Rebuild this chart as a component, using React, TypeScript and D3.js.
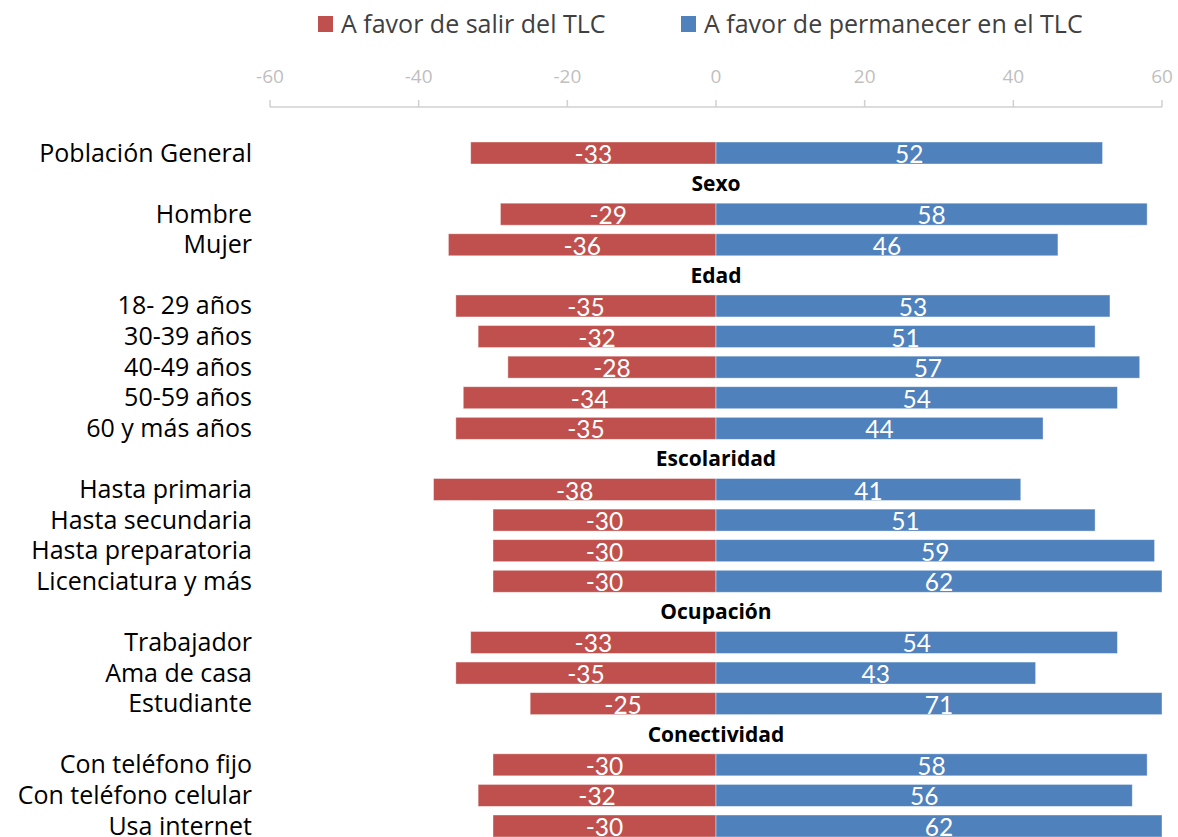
import * as d3 from 'd3';

const CATEGORIES = [
  'Población General',
  'Sexo', 'Hombre', 'Mujer',
  'Edad', '18- 29 años', '30-39 años', '40-49 años', '50-59 años', '60 y más años',
  'Escolaridad', 'Hasta primaria', 'Hasta secundaria', 'Hasta preparatoria', 'Licenciatura y más',
  'Ocupación', 'Trabajador', 'Ama de casa', 'Estudiante',
  'Conectividad', 'Con teléfono fijo', 'Con teléfono celular', 'Usa internet',
];
const HEADERS = ['Sexo', 'Edad', 'Escolaridad', 'Ocupación', 'Conectividad'];

const SALIR: (number | null)[] = [
  -33,
  null, -29, -36,
  null, -35, -32, -28, -34, -35,
  null, -38, -30, -30, -30,
  null, -33, -35, -25,
  null, -30, -32, -30,
];
const PERMANECER: (number | null)[] = [
  52,
  null, 58, 46,
  null, 53, 51, 57, 54, 44,
  null, 41, 51, 59, 62,
  null, 54, 43, 71,
  null, 58, 56, 62,
];

const SERIES = ['A favor de salir del TLC', 'A favor de permanecer en el TLC'];
const COLORS = ['#C0504D', '#4F81BD'];
const TICKS = [-60, -40, -20, 0, 20, 40, 60];

const FONT = '"Open Sans", sans-serif';
const NUM_FONT = 'Lato, sans-serif';

export default function App() {
  const width = 1178;
  const height = 837;
  const x = d3.scaleLinear().domain([-60, 60]).range([270, 1162]).clamp(true);
  const y = d3.scalePoint<string>().domain(CATEGORIES).range([153, 826]);
  const barH = 22;
  const axisY = 107;

  const bar = (v: number | null, i: number, s: number) => {
    if (v == null) return null;
    const c = CATEGORIES[i];
    const x0 = Math.min(x(0), x(v));
    const x1 = Math.max(x(0), x(v));
    const cy = y(c)!;
    return (
      <g key={`${s}-${i}`}>
        <rect x={x0} y={cy - barH / 2} width={x1 - x0} height={barH} fill={COLORS[s]}
          stroke="#ffffff" strokeOpacity={0.5} strokeWidth={0.8} />
        <text x={(x0 + x1) / 2} y={cy + barH / 2 - 1} textAnchor="middle" fill="#ffffff"
          fontSize={24.5} fontFamily={NUM_FONT}>{v}</text>
      </g>
    );
  };

  return (
    <svg width={width} height={height} style={{ position: 'absolute', left: 0, top: 0 }}>
      <rect width={width} height={height} fill="#ffffff" />

      {/* legend */}
      <g fontFamily={FONT} fontSize={25} fill="#404040">
        <rect x={318} y={16} width={15} height={16} fill={COLORS[0]} />
        <text x={341} y={33}>{SERIES[0]}</text>
        <rect x={681} y={16} width={15} height={16} fill={COLORS[1]} />
        <text x={704} y={33}>{SERIES[1]}</text>
      </g>

      {/* axis on top */}
      <g>
        <line x1={x(-60)} x2={x(60)} y1={axisY} y2={axisY} stroke="#d0d0d0" strokeWidth={1.5} />
        {TICKS.map(t => (
          <g key={t}>
            <line x1={x(t)} x2={x(t)} y1={axisY - 7} y2={axisY} stroke="#d0d0d0" strokeWidth={1.5} />
            <text x={x(t)} y={83} textAnchor="middle" fill="#bfbfbf" fontSize={19} fontFamily={FONT}>{t}</text>
          </g>
        ))}
      </g>

      {/* bars */}
      {SALIR.map((v, i) => bar(v, i, 0))}
      {PERMANECER.map((v, i) => bar(v, i, 1))}

      {/* category labels */}
      {CATEGORIES.map(c => HEADERS.includes(c) ? (
        <text key={c} x={x(0)} y={y(c)! + 7.5} textAnchor="middle" fontWeight="bold" fontSize={21}
          fontFamily={FONT} fill="#000000">{c}</text>
      ) : (
        <text key={c} x={252} y={y(c)! + 8.5} textAnchor="end" fontSize={25}
          fontFamily={FONT} fill="#000000">{c}</text>
      ))}
    </svg>
  );
}
